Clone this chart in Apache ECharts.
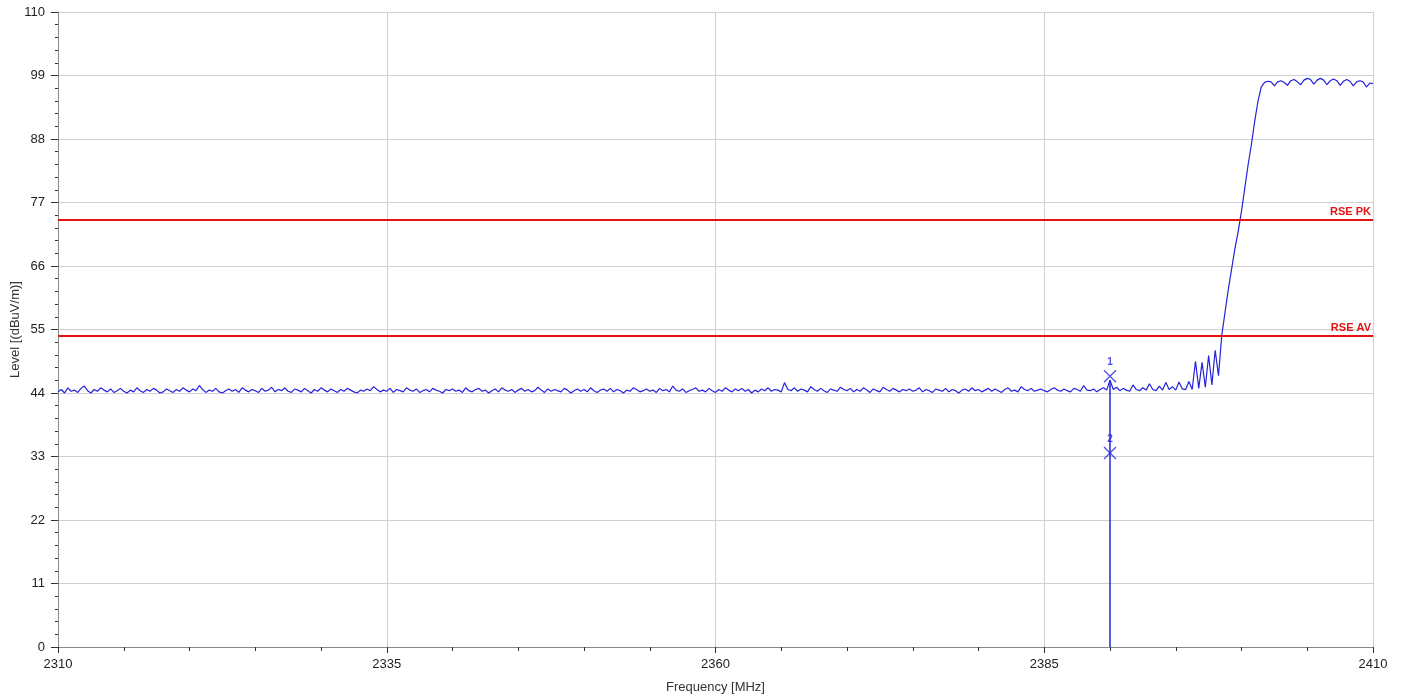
<!DOCTYPE html>
<html>
<head>
<meta charset="utf-8">
<script src="https://cdn.jsdelivr.net/npm/echarts@6/dist/echarts.min.js"></script>
<style>html,body{margin:0;padding:0;background:#fff}#c{width:1405px;height:695px}</style>
</head>
<body>
<div id="c"></div>
<script>
// Trace: start frequency / step (MHz) and levels (dBuV/m)
const FREQ_START = 2310;
const FREQ_STEP = 0.25;
const levels = [
44.2,44.6,44.0,44.9,44.3,44.5,44.1,44.8,45.2,44.4,44.0,44.6,44.3,44.9,44.5,44.2,44.7,44.1,44.4,44.8,
44.3,44.0,44.5,44.2,44.9,44.4,44.1,44.6,44.3,44.8,44.5,44.0,44.2,44.7,44.4,44.1,44.6,44.3,44.9,44.5,
44.2,44.7,44.4,45.3,44.6,44.1,44.5,44.3,44.8,44.2,44.0,44.4,44.7,44.3,44.6,44.1,44.9,44.5,44.2,44.6,
44.4,44.1,44.8,44.3,44.5,45.0,44.2,44.6,44.4,44.9,44.3,44.1,44.7,44.5,44.2,44.8,44.4,44.0,44.6,44.3,
44.9,44.5,44.2,44.7,44.4,44.1,44.6,44.3,44.8,44.5,44.2,44.0,44.5,44.3,44.7,44.4,45.1,44.6,44.2,44.5,
44.3,44.8,44.1,44.6,44.4,44.2,44.9,44.5,44.3,44.7,44.1,44.4,44.6,44.2,44.8,44.5,44.3,44.0,44.6,44.4,
44.7,44.3,44.5,44.1,44.9,44.4,44.2,44.6,44.8,44.3,44.5,44.0,44.4,44.7,44.2,44.9,44.5,44.3,44.6,44.1,
44.5,44.8,44.3,44.6,44.2,44.4,45.0,44.5,44.1,44.7,44.3,44.6,44.4,44.2,44.8,44.5,44.0,44.4,44.7,44.3,
44.6,44.2,44.9,44.4,44.1,44.5,44.7,44.3,44.8,44.2,44.6,44.4,44.0,44.5,44.3,44.9,44.6,44.2,44.4,44.7,
44.3,44.5,44.1,44.8,44.4,44.6,44.2,45.2,44.5,44.3,44.7,44.1,44.4,44.6,44.9,44.3,44.5,44.2,44.8,44.4,
44.1,44.6,44.3,44.9,44.5,44.2,44.7,44.4,44.8,44.3,44.6,44.0,44.5,44.2,44.7,44.4,44.9,44.3,44.6,44.5,
44.2,45.8,44.6,44.4,44.9,44.3,44.7,44.5,44.2,45.1,44.6,44.3,44.8,44.4,44.1,44.7,44.5,44.3,45.0,44.6,
44.4,44.8,44.2,44.6,44.3,44.9,44.5,44.1,44.7,44.4,44.2,45.0,44.6,44.3,44.8,44.5,44.2,44.6,44.4,44.7,
44.3,44.5,44.9,44.2,44.6,44.4,44.1,44.7,44.5,44.3,44.8,44.2,44.6,44.4,44.0,44.5,44.7,44.3,44.9,44.4,
44.6,44.2,44.5,44.8,44.3,44.7,44.4,44.1,44.6,44.9,44.3,44.5,44.2,45.1,44.6,44.4,44.8,44.3,44.5,44.7,
44.4,44.2,44.6,44.9,44.5,44.3,44.7,44.4,44.2,44.8,44.6,44.3,45.3,44.5,44.4,44.7,44.2,44.6,44.9,44.5,
46.2,44.6,45.0,44.4,44.8,44.5,44.3,45.4,44.6,44.4,44.9,44.5,45.6,44.6,44.4,45.2,
44.5,45.8,44.6,45.1,44.5,45.9,44.7,44.6,
46.0,44.6,49.5,44.8,49.3,45.0,50.5,45.4,
51.4,47.0,54.0,58.0,62.0,65.5,69.0,72.0,75.5,79.5,83.5,87.0,91.0,94.5,97.0,
97.8,98.0,97.9,97.2,97.9,98.1,97.8,97.3,98.1,98.3,97.9,97.4,98.2,98.5,98.3,97.5,98.2,
98.5,98.2,97.4,98.1,98.4,98.1,97.3,98.0,98.3,98.0,97.2,97.9,98.1,97.9,97.0,97.7,97.6
];
// Limit lines
const limitNames = ['RSE PK', 'RSE AV'];
const limitValues = [74, 54];
// Markers
const markerNames = ['1', '2'];
const markerFreq = [2390, 2390];
const markerLevel = [46.9, 33.6];
// Marker drop line
const dropFreq = [2390, 2390];
const dropLevel = [0, 46.2];
// Axis ticks
const xTicks = [2310, 2335, 2360, 2385, 2410];
const yTicks = [0, 11, 22, 33, 44, 55, 66, 77, 88, 99, 110];

const BLUE = '#2323dc';
const RED = '#e41414';
const traceData = levels.map((v, i) => [FREQ_START + i * FREQ_STEP, v]);

const chart = echarts.init(document.getElementById('c'), null, {renderer: 'canvas'});
chart.setOption({
  animation: false,
  backgroundColor: '#fff',
  grid: {left: 58, right: 32, top: 12, bottom: 48, containLabel: false, outerBoundsMode: 'none'},
  xAxis: {
    type: 'value',
    min: xTicks[0], max: xTicks[xTicks.length - 1], interval: 25,
    name: 'Frequency [MHz]', nameLocation: 'middle', nameGap: 34, nameMoveOverlap: false,
    nameTextStyle: {fontFamily: 'Liberation Sans', fontSize: 13, color: '#333'},
    axisLine: {show: true, lineStyle: {color: '#888', width: 1}},
    axisTick: {show: true, length: 6, lineStyle: {color: '#333'}},
    minorTick: {show: true, splitNumber: 5, length: 4, lineStyle: {color: '#333'}},
    axisLabel: {fontFamily: 'Liberation Sans', fontSize: 13, color: '#222', margin: 11,
                formatter: v => String(v)},
    splitLine: {show: true, lineStyle: {color: '#cfcfcf', width: 1}}
  },
  yAxis: {
    type: 'value',
    min: yTicks[0], max: yTicks[yTicks.length - 1], interval: 11,
    name: 'Level [(dBuV/m)]', nameLocation: 'middle', nameGap: 36, nameRotate: 90, nameMoveOverlap: false,
    nameTextStyle: {fontFamily: 'Liberation Sans', fontSize: 13, color: '#333'},
    axisLine: {show: true, lineStyle: {color: '#888', width: 1}},
    axisTick: {show: true, length: 7, lineStyle: {color: '#333'}},
    minorTick: {show: true, splitNumber: 5, length: 3, lineStyle: {color: '#333'}},
    axisLabel: {fontFamily: 'Liberation Sans', fontSize: 13, color: '#222', margin: 13,
                formatter: v => String(v)},
    splitLine: {show: true, lineStyle: {color: '#cfcfcf', width: 1}}
  },
  series: [
    {
      type: 'line', name: 'limits', data: [], silent: true,
      markLine: {
        symbol: 'none', silent: true,
        lineStyle: {color: RED, width: 2, type: 'solid'},
        label: {show: true, position: 'insideEndTop', formatter: '{b}', color: RED,
                fontFamily: 'Liberation Sans', fontWeight: 'bold', fontSize: 11, distance: 2},
        data: limitNames.map((n, i) => ({name: n, yAxis: limitValues[i]}))
      }
    },
    {
      type: 'line', name: 'trace', data: traceData, showSymbol: false, symbol: 'none',
      lineStyle: {color: BLUE, width: 1.2}, z: 3
    },
    {
      type: 'line', name: 'drop', data: dropFreq.map((f, i) => [f, dropLevel[i]]),
      showSymbol: false, symbol: 'none', lineStyle: {color: BLUE, width: 1.5}, z: 3
    },
    {
      type: 'scatter', name: 'markers',
      data: markerFreq.map((f, i) => ({value: [f, markerLevel[i]], name: markerNames[i]})),
      symbol: 'path://M0,0L10,10M10,0L0,10', symbolSize: 12,
      itemStyle: {color: 'rgba(0,0,0,0)', borderColor: BLUE, borderWidth: 1.3},
      label: {show: true, position: 'top', formatter: '{b}', color: BLUE, fontWeight: 'bold',
              fontFamily: 'Liberation Sans', fontSize: 10, distance: 2},
      z: 4
    }
  ]
});
</script>
</body>
</html>
